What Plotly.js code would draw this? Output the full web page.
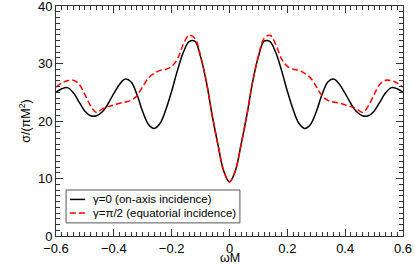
<!DOCTYPE html>
<html>
<head>
<meta charset="utf-8">
<script src="https://cdn.plot.ly/plotly-3.0.1.min.js"></script>
<style>html,body{margin:0;padding:0;background:#fff;}#chart{width:414px;height:265px;}</style>
</head>
<body>
<div id="chart"></div>
<script>
var omegaM = [-0.60,-0.58,-0.56,-0.54,-0.52,-0.50,-0.48,-0.46,-0.44,-0.42,-0.40,-0.38,-0.36,-0.34,-0.32,-0.30,-0.28,-0.26,-0.24,-0.22,-0.20,-0.18,-0.16,-0.14,-0.12,-0.10,-0.08,-0.06,-0.04,-0.02,
  0.00,0.02,0.04,0.06,0.08,0.10,0.12,0.14,0.16,0.18,0.20,0.22,0.24,0.26,0.28,0.30,0.32,0.34,0.36,0.38,0.40,0.42,0.44,0.46,0.48,0.50,0.52,0.54,0.56,0.58,0.60];
var sigmaOnAxis = [25.0,25.6,25.8,24.9,23.3,21.7,20.9,20.9,21.6,23.0,24.8,26.4,27.3,26.8,24.6,21.6,19.4,18.7,19.6,22.0,25.2,28.8,31.9,33.8,33.9,31.2,26.8,21.0,15.9,11.3,
  9.4,11.3,15.9,21.0,26.8,31.2,33.9,33.8,31.9,28.8,25.2,22.0,19.6,18.7,19.4,21.6,24.6,26.8,27.3,26.4,24.8,23.0,21.6,20.9,20.9,21.7,23.3,24.9,25.8,25.6,25.0];
var sigmaEquatorial = [25.9,26.6,27.0,27.1,26.4,24.6,22.6,21.5,22.1,22.5,22.8,23.1,23.3,23.6,24.4,26.0,27.5,28.3,28.8,29.0,29.5,30.8,33.3,34.9,34.4,31.3,26.8,21.0,15.9,11.3,
  9.4,11.3,15.9,21.0,26.8,31.3,34.4,34.9,33.3,30.8,29.5,29.0,28.8,28.3,27.5,26.0,24.4,23.6,23.3,23.1,22.8,22.5,22.1,21.5,22.6,24.6,26.4,27.1,27.0,26.6,25.9];
var seriesNames = ["γ=0 (on-axis incidence)", "γ=π/2 (equatorial incidence)"];
var seriesColors = ["#000000", "#ff0000"];
var seriesDash = ["solid", "6px,3px"];
var xTitle = "ωM";
var yTitle = "σ/(πM<sup>2</sup>)";

var font = "Liberation Sans, Arial, sans-serif";
var seriesY = [sigmaOnAxis, sigmaEquatorial];
var traces = seriesY.map(function (ys, i) {
  return {x: omegaM, y: ys, name: seriesNames[i], type: "scatter", mode: "lines",
    line: {color: seriesColors[i], width: 1.5, dash: seriesDash[i], shape: "spline", smoothing: 1}};
});

// legend box drawn in paper coordinates (compact, like the original)
var legBox = {x0: 0.029, x1: 0.530, y0: 0.057, y1: 0.200};
var legRowsY = [0.159, 0.100];
var shapes = [{type: "rect", xref: "paper", yref: "paper", x0: legBox.x0, x1: legBox.x1,
  y0: legBox.y0, y1: legBox.y1, line: {color: "#555", width: 1}, fillcolor: "#fff", layer: "above"}];
var annotations = [];
seriesNames.forEach(function (nm, i) {
  shapes.push({type: "line", xref: "paper", yref: "paper", x0: 0.040, x1: 0.084,
    y0: legRowsY[i], y1: legRowsY[i], line: {color: seriesColors[i], width: 1.5, dash: seriesDash[i]}, layer: "above"});
  annotations.push({xref: "paper", yref: "paper", x: 0.102, y: legRowsY[i], xanchor: "left",
    yanchor: "middle", text: nm, showarrow: false, font: {family: font, size: 11.5, color: "#000"}});
});
// x-axis title placed below the tick labels
annotations.push({xref: "paper", yref: "paper", x: 0.5, y: -0.096, xanchor: "center", yanchor: "middle",
  text: xTitle, showarrow: false, font: {family: font, size: 12.5, color: "#000"}});

var axisCommon = {
  ticks: "inside", mirror: "ticks", showline: true, linecolor: "#333", linewidth: 1,
  tickcolor: "#333", ticklen: 7, tickwidth: 1, showgrid: false, zeroline: false,
  ticklabeloverflow: "allow",
  tickfont: {family: font, size: 13, color: "#000"}
};
var layout = {
  width: 414, height: 265,
  margin: {l: 56, r: 11, t: 6, b: 29},
  paper_bgcolor: "#fff", plot_bgcolor: "#fff",
  showlegend: false,
  shapes: shapes, annotations: annotations,
  xaxis: Object.assign({}, axisCommon, {
    range: [-0.6, 0.6], dtick: 0.2, tick0: -0.6,
    minor: {dtick: 0.02, ticklen: 4, tickcolor: "#333", ticks: "inside"}
  }),
  yaxis: Object.assign({}, axisCommon, {
    range: [0, 40], dtick: 10,
    minor: {dtick: 1, ticklen: 4, tickcolor: "#333", ticks: "inside"},
    title: {text: yTitle, font: {family: font, size: 12.5, color: "#000"}, standoff: 4}
  })
};
Plotly.newPlot("chart", traces, layout, {displayModeBar: false, staticPlot: true});
</script>
</body>
</html>
